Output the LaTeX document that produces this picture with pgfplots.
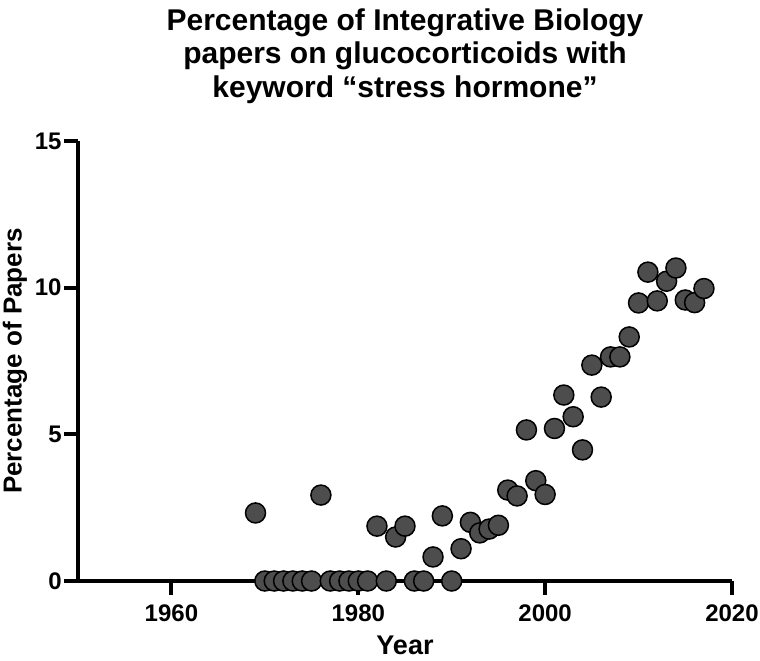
\documentclass[border=0pt]{standalone}
\usepackage{fontspec}
\setmainfont{Liberation Sans}
\usepackage{pgfplots}
\pgfplotsset{compat=1.18}
\definecolor{dotgray}{RGB}{77,77,77}
\begin{document}
\begin{tikzpicture}
\begin{axis}[
  at={(0,0)}, anchor=south west,
  scale only axis,
  width=327pt, height=220pt,
  xmin=1950, xmax=2020,
  ymin=0, ymax=15,
  axis lines=left,
  axis line style={line width=2pt, black, -},
  xtick={1960,1980,2000,2020},
  ytick={0,5,10,15},
  tick align=outside,
  major tick length=7pt,
  every tick/.style={line width=2pt, black},
  xtick pos=bottom, ytick pos=left,
  /pgf/number format/assume math mode=true,
  /pgf/number format/1000 sep={},
  ticklabel style={font=\bfseries\fontsize{12}{14}\selectfont},
  xticklabel style={yshift=-1.5pt},
  yticklabel style={inner sep=1pt},
  clip=false,
  xlabel={Year},
  ylabel={Percentage of Papers},
  every axis x label/.style={at={(axis description cs:0.5,0)}, yshift=-32pt, anchor=center, font=\bfseries\fontsize{13.5}{15}\selectfont},
  every axis y label/.style={at={(axis description cs:0,0.5)}, xshift=-31.5pt, anchor=center, rotate=90, font=\bfseries\fontsize{13}{15}\selectfont},
  title={Percentage of Integrative Biology\\papers on glucocorticoids with\\keyword “stress hormone”},
  title style={at={(axis description cs:0.5,1)}, anchor=center, yshift=36.5pt, align=center, font=\bfseries\fontsize{15}{16.8}\selectfont},
]
\addplot[only marks, mark=*, mark size=5pt, mark options={fill=dotgray, draw=black, line width=0.75pt}] table {
x y
1969 2.32
1970 0
1971 0
1972 0
1973 0
1974 0
1975 0
1976 2.93
1977 0
1978 0
1979 0
1980 0
1981 0
1982 1.87
1983 0
1984 1.5
1985 1.87
1986 0
1987 0
1988 0.82
1989 2.22
1990 0
1991 1.1
1992 2.0
1993 1.64
1994 1.77
1995 1.9
1996 3.1
1997 2.9
1998 5.15
1999 3.42
2000 2.95
2001 5.2
2002 6.34
2003 5.6
2004 4.47
2005 7.36
2006 6.27
2007 7.64
2008 7.64
2009 8.32
2010 9.48
2011 10.53
2012 9.55
2013 10.22
2014 10.67
2015 9.58
2016 9.49
2017 9.97
};
\end{axis}
\pgfresetboundingbox
\path (-39pt,-39.5pt) rectangle (341pt,290.5pt);
\end{tikzpicture}
\end{document}
